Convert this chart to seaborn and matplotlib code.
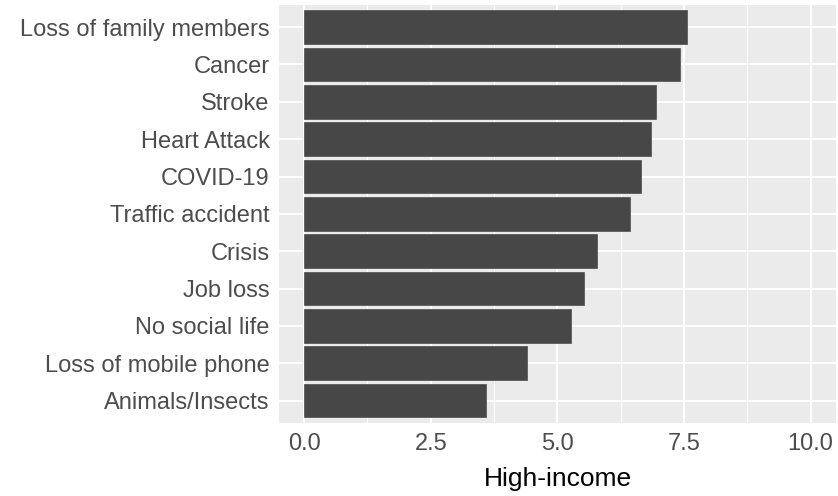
import matplotlib
matplotlib.use("Agg")
import matplotlib.pyplot as plt
import seaborn as sns
import pandas as pd
from matplotlib.ticker import MultipleLocator

# Data (top to bottom)
causes = [
    "Loss of family members",
    "Cancer",
    "Stroke",
    "Heart Attack",
    "COVID-19",
    "Traffic accident",
    "Crisis",
    "Job loss",
    "No social life",
    "Loss of mobile phone",
    "Animals/Insects",
]
high_income = [7.55, 7.43, 6.95, 6.85, 6.65, 6.43, 5.79, 5.52, 5.26, 4.40, 3.59]
x_ticks = [0, 2.5, 5, 7.5, 10]
x_tick_labels = ["0.0", "2.5", "5.0", "7.5", "10.0"]

df = pd.DataFrame({"cause": causes, "value": high_income})

sns.set_theme(style="darkgrid")
plt.rcParams["font.family"] = ["Liberation Sans", "DejaVu Sans"]

fig = plt.figure(figsize=(8.38, 4.96), dpi=100)
ax = fig.add_axes([0.3333, 0.1472, 0.6643, 0.8433])

sns.barplot(data=df, x="value", y="cause", order=causes, color="#474747",
            saturation=1, width=0.9, edgecolor="#5a5a5a", linewidth=0.6, ax=ax)

ax.set_facecolor("#EBEBEB")
ax.set_xlim(-0.49, 10.5)
ax.set_ylim(len(causes) - 0.4, -0.6)
ax.xaxis.set_minor_locator(MultipleLocator(1.25))
ax.set_xticks(x_ticks)
ax.set_xticklabels(x_tick_labels)
ax.grid(which="major", color="white", linewidth=1.4)
ax.grid(which="minor", axis="x", color="white", linewidth=0.7)
ax.set_axisbelow(True)
for s in ax.spines.values():
    s.set_visible(False)

ax.tick_params(axis="both", which="major", length=5, width=1.2, color="#333333",
               labelsize=17, labelcolor="#4D4D4D", pad=2)
ax.tick_params(axis="both", which="minor", length=0)
ax.set_xlabel("High-income", fontsize=19, color="black", labelpad=9)
ax.set_ylabel("")

fig.savefig("out.png", dpi=100)
